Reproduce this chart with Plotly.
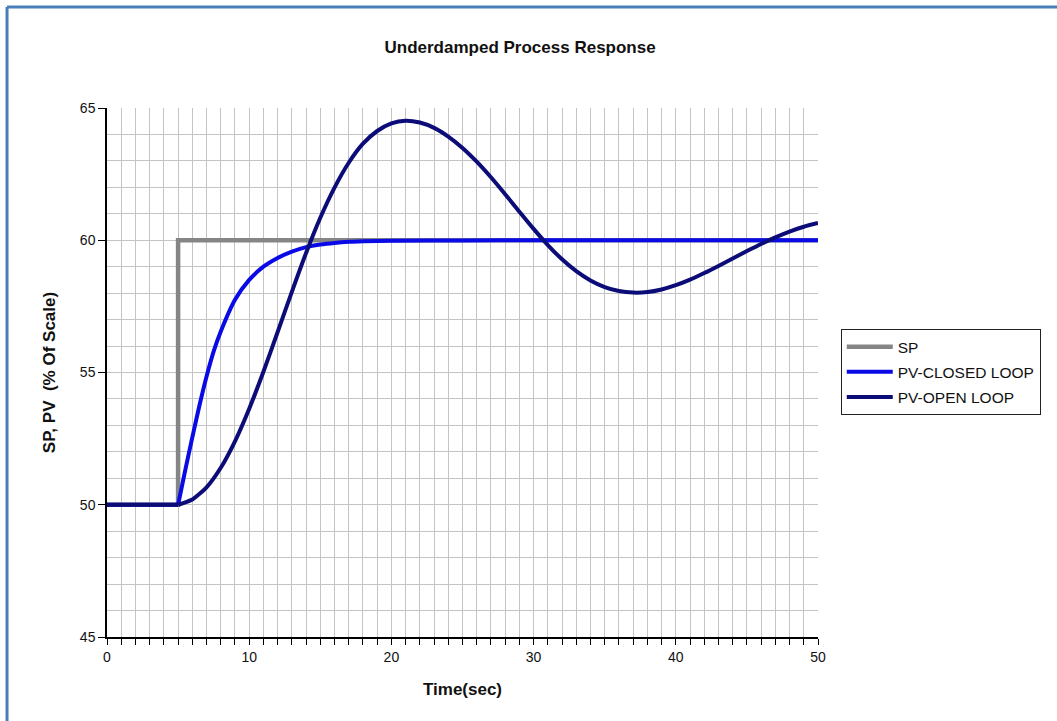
import plotly.graph_objects as go

# ---- data ----
sp_t = [0, 5, 5, 50]
sp_v = [50, 50, 60, 60]

# closed-loop response: flat part, then the rise (split so the smoothing does not dip)
closed_t = [0, 5, None, 5, 5.5, 6, 6.5, 7, 7.5, 8, 9, 10, 11, 12, 13, 14, 15, 16, 17, 18, 20, 25, 30, 40, 50]
closed_v = [50, 50, None, 50, 51.3, 52.55, 53.75, 54.85, 55.8, 56.55, 57.75, 58.5, 59.0, 59.33, 59.57, 59.74,
            59.84, 59.9, 59.94, 59.96, 59.98, 59.99, 60.0, 60.0, 60.0]

open_t = [0, 5, None] + list(range(5, 51))
open_v = [50, 50, None,
          50, 50.2, 50.66, 51.4, 52.4, 53.63, 55.03, 56.53, 58.05, 59.52, 60.85,
          61.99, 62.93, 63.65, 64.13, 64.42, 64.52, 64.45, 64.25, 63.92, 63.49,
          62.97, 62.38, 61.74, 61.08, 60.43, 59.82, 59.28, 58.83, 58.48, 58.23,
          58.08, 58.02, 58.04, 58.14, 58.30, 58.51, 58.76, 59.03, 59.31, 59.59,
          59.86, 60.11, 60.33, 60.51, 60.65]

x_ticks = [0, 10, 20, 30, 40, 50]
y_ticks = [45, 50, 55, 60, 65]

FONT = "Liberation Sans, Arial, sans-serif"

fig = go.Figure()
fig.add_trace(go.Scatter(x=sp_t, y=sp_v, mode="lines", name="SP",
                         line=dict(color="#858585", width=4.5), legendgroup="a"))
fig.add_trace(go.Scatter(x=closed_t, y=closed_v, mode="lines", name="PV-CLOSED LOOP",
                         line=dict(color="#0a0ae6", width=4, shape="spline", smoothing=0.6),
                         connectgaps=False, legendgroup="b"))
fig.add_trace(go.Scatter(x=open_t, y=open_v, mode="lines", name="PV-OPEN LOOP",
                         line=dict(color="#0c0c78", width=4, shape="spline", smoothing=0.6),
                         connectgaps=False, legendgroup="c"))

fig.update_layout(
    width=1057, height=721,
    margin=dict(l=107, r=239, t=108, b=84),
    paper_bgcolor="white", plot_bgcolor="white",
    font=dict(family=FONT, color="#111111"),
    title=dict(text="<b>Underdamped Process Response</b>", font=dict(size=17, family=FONT),
               x=0.581, xref="paper", xanchor="center", y=1 - 47 / 721, yanchor="middle"),
    legend=dict(x=1.032, y=0.582, xanchor="left", yanchor="top",
                bordercolor="#222222", borderwidth=1, bgcolor="white",
                font=dict(size=15.5, family=FONT), tracegroupgap=2,
                itemwidth=46),
    showlegend=True,
)

fig.update_xaxes(
    range=[0, 50], tickvals=x_ticks, ticktext=[str(v) for v in x_ticks],
    showline=True, linecolor="black", linewidth=1.5,
    ticks="outside", ticklen=6, tickcolor="black",
    showgrid=True, gridcolor="#c4c4c4", gridwidth=1,
    minor=dict(dtick=1, showgrid=True, gridcolor="#c4c4c4", ticks="outside",
               ticklen=6, tickcolor="black"),
    tickfont=dict(size=14, family=FONT), zeroline=False,
    title=dict(text="<b>Time(sec)</b>", font=dict(size=17, family=FONT), standoff=20),
)
fig.update_yaxes(
    range=[45, 65], tickvals=y_ticks, ticktext=[str(v) for v in y_ticks],
    showline=True, linecolor="black", linewidth=1.5,
    ticks="outside", ticklen=7, tickcolor="black",
    showgrid=True, gridcolor="#c4c4c4", gridwidth=1,
    minor=dict(dtick=1, showgrid=True, gridcolor="#c4c4c4"),
    tickfont=dict(size=14, family=FONT), zeroline=False,
    title=dict(text="<b>SP, PV  (% Of Scale)</b>", font=dict(size=17, family=FONT), standoff=20),
)

# outer frame lines (top and left), as in the reference
fig.add_shape(type="line", xref="paper", yref="paper",
              x0=-0.1406, x1=1.40, y0=1.1909, y1=1.1909,
              line=dict(color="#4a7ebb", width=3))
fig.add_shape(type="line", xref="paper", yref="paper",
              x0=-0.1406, x1=-0.1406, y0=1.1909, y1=-0.20,
              line=dict(color="#4a7ebb", width=3))

fig.write_html("out.html", config={"displayModeBar": False},
               post_script="document.body.style.margin='0px';")
